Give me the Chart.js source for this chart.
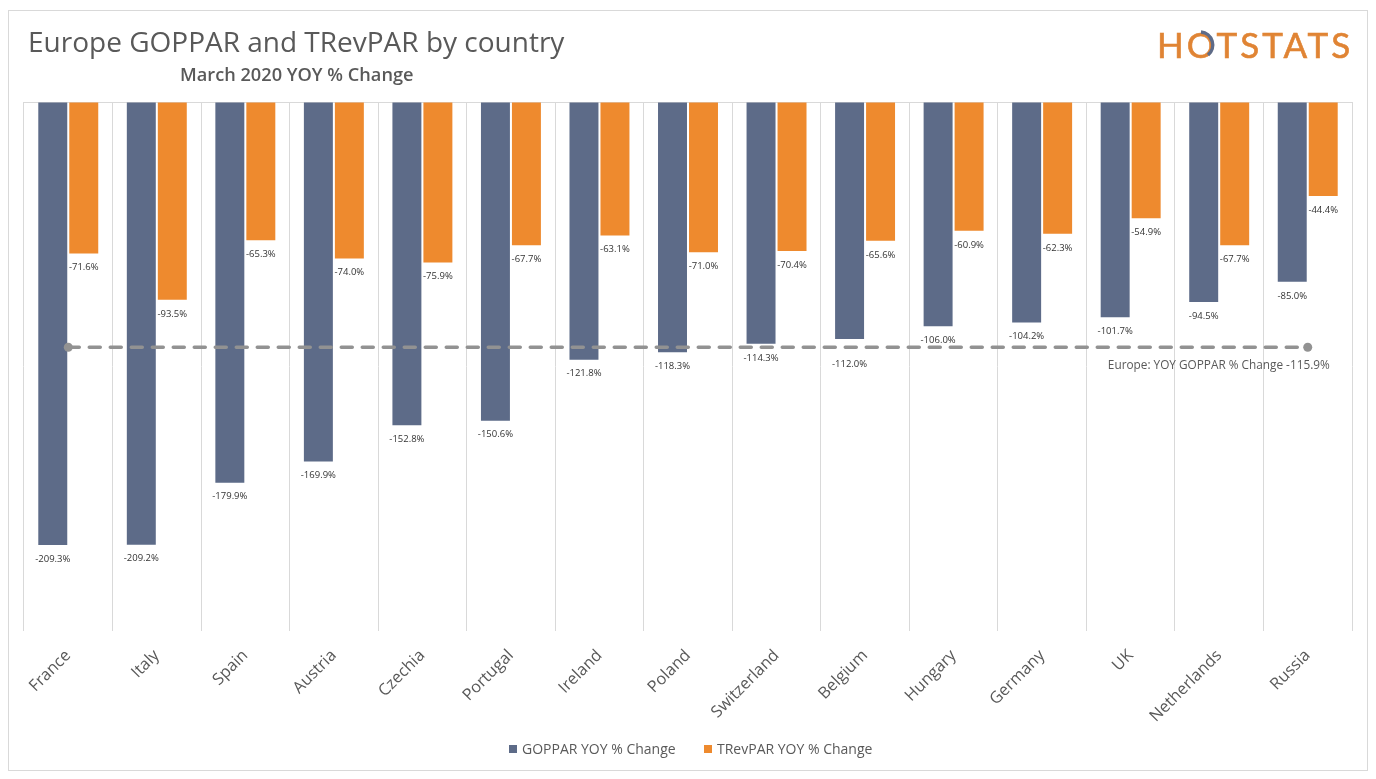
<!DOCTYPE html>
<html>
<head>
<meta charset="utf-8">
<title>Europe GOPPAR and TRevPAR by country</title>
<script src="https://cdn.jsdelivr.net/npm/chart.js@4/dist/chart.umd.min.js"></script>
<style>
  html, body { margin: 0; padding: 0; background: #fff; }
  #wrap { position: relative; width: 1376px; height: 779px; overflow: hidden; font-family: "Open Sans", sans-serif; }
  #frame { position: absolute; left: 8px; top: 10px; width: 1358px; height: 759px; border: 1px solid #d9d9d9; }
  #title { position: absolute; left: 28px; top: 22px; font-size: 28px; color: #595959; white-space: nowrap; }
  #sub { position: absolute; left: 180px; top: 62px; font-size: 18.2px; font-weight: 600; color: #595959; white-space: nowrap; }
  #logo { position: absolute; left: 1157px; top: 23px; font-family: Lato, sans-serif; font-size: 35px; letter-spacing: 3px; color: #e08434; -webkit-text-stroke: 0.6px #e08434; white-space: nowrap; }
  #ring { position: absolute; left: 1180px; top: 30px; }
  canvas { position: absolute; left: 0; top: 0; }
  .key { position: absolute; top: 739px; height: 20px; line-height: 20px; font-size: 14px; color: #595959; white-space: nowrap; }
  .key i { display: inline-block; width: 8px; height: 8px; margin-right: 5px; vertical-align: 1px; }
</style>
</head>
<body>
<div id="wrap">
  <div id="frame"></div>
  <canvas id="c" width="1376" height="779"></canvas>
  <div id="title">Europe GOPPAR and TRevPAR by country</div>
  <div id="sub">March 2020 YOY % Change</div>
  <div id="logo">HOTSTATS</div>
  <svg id="ring" width="36" height="30" viewBox="0 0 36 30"><path d="M 21 2 A 13 13 0 0 1 28 25" fill="none" stroke="#5d6b88" stroke-width="3.4"/></svg>
  <div id="keys"></div>
</div>
<script>
const countries = ['France', 'Italy', 'Spain', 'Austria', 'Czechia', 'Portugal', 'Ireland', 'Poland',
  'Switzerland', 'Belgium', 'Hungary', 'Germany', 'UK', 'Netherlands', 'Russia'];
const goppar = [-209.3, -209.2, -179.9, -169.9, -152.8, -150.6, -121.8, -118.3, -114.3, -112.0, -106.0, -104.2, -101.7, -94.5, -85.0];
const trevpar = [-71.6, -93.5, -65.3, -74.0, -75.9, -67.7, -63.1, -71.0, -70.4, -65.6, -60.9, -62.3, -54.9, -67.7, -44.4];
const europe = [-115.9, -115.9, -115.9, -115.9, -115.9, -115.9, -115.9, -115.9, -115.9, -115.9, -115.9, -115.9, -115.9, -115.9, -115.9];
const europeLabel = 'Europe: YOY GOPPAR % Change -115.9%';

const font = '"Open Sans", sans-serif';
const grid = '#d9d9d9';

// no datalabels plugin available, so labels are drawn off the bar elements
const barLabels = {
  id: 'barLabels',
  afterDatasetsDraw(chart) {
    const g = chart.ctx;
    g.save();
    g.font = '9.5px ' + font;
    g.fillStyle = '#333';
    g.textAlign = 'center';
    g.textBaseline = 'middle';
    [0, 1].forEach(i => {
      const vals = chart.data.datasets[i].data;
      chart.getDatasetMeta(i).data.forEach((bar, k) => {
        // Belgium's GOPPAR label sits under the Europe line in the original
        const dy = (i === 0 && countries[k] === 'Belgium') ? 25 : 14;
        g.fillText(vals[k].toFixed(1) + '%', bar.x, bar.y + dy);
      });
    });
    const pts = chart.getDatasetMeta(2).data;
    const last = pts[pts.length - 1];
    g.font = '11.8px ' + font;
    g.textAlign = 'right';
    g.fillStyle = '#595959';
    g.fillText(europeLabel, last.x + 22, last.y + 18.5);
    g.restore();
  }
};

const chart = new Chart(document.getElementById('c'), {
  type: 'bar',
  plugins: [barLabels],
  data: {
    labels: countries,
    datasets: [
      { label: 'GOPPAR YOY % Change', data: goppar, backgroundColor: '#5d6b88', order: 2 },
      { label: 'TRevPAR YOY % Change', data: trevpar, backgroundColor: '#ee8a2e', order: 2 },
      {
        type: 'line', label: 'Europe', data: europe, order: 1,
        borderColor: '#929292', borderWidth: 3.5, borderDash: [11, 10], borderCapStyle: 'round',
        backgroundColor: '#929292',
        pointRadius: c => (c.dataIndex === 0 || c.dataIndex === europe.length - 1) ? 4.5 : 0,
        pointBorderWidth: 0
      }
    ]
  },
  options: {
    responsive: false,
    animation: false,
    devicePixelRatio: 1,
    categoryPercentage: 0.7,
    barPercentage: 0.935,
    layout: { padding: { left: 24, right: 24, top: 102, bottom: 0 } },
    plugins: {
      title: { display: false },
      tooltip: { enabled: false },
      legend: { display: false }
    },
    scales: {
      x: {
        afterFit: s => { s.height = 148; },
        grid: { color: grid, tickLength: 0 },
        border: { display: false },
        ticks: { minRotation: 45, maxRotation: 45, color: '#595959', font: { family: font, size: 16.3 }, padding: 15 }
      },
      y: {
        min: -250, max: 0,
        ticks: { display: false, stepSize: 50 },
        grid: { color: c => c.tick.value === 0 ? grid : 'transparent', drawTicks: false },
        border: { display: false }
      }
    }
  }
});

// legend sits outside the canvas, the Chart.js one can't keep this spacing
const keyLeft = [509, 704];
[0, 1].forEach(i => {
  const ds = chart.data.datasets[i];
  const el = document.createElement('div');
  el.className = 'key';
  el.style.left = keyLeft[i] + 'px';
  const box = document.createElement('i');
  box.style.background = ds.backgroundColor;
  el.append(box, ds.label);
  document.getElementById('keys').append(el);
});
</script>
</body>
</html>
